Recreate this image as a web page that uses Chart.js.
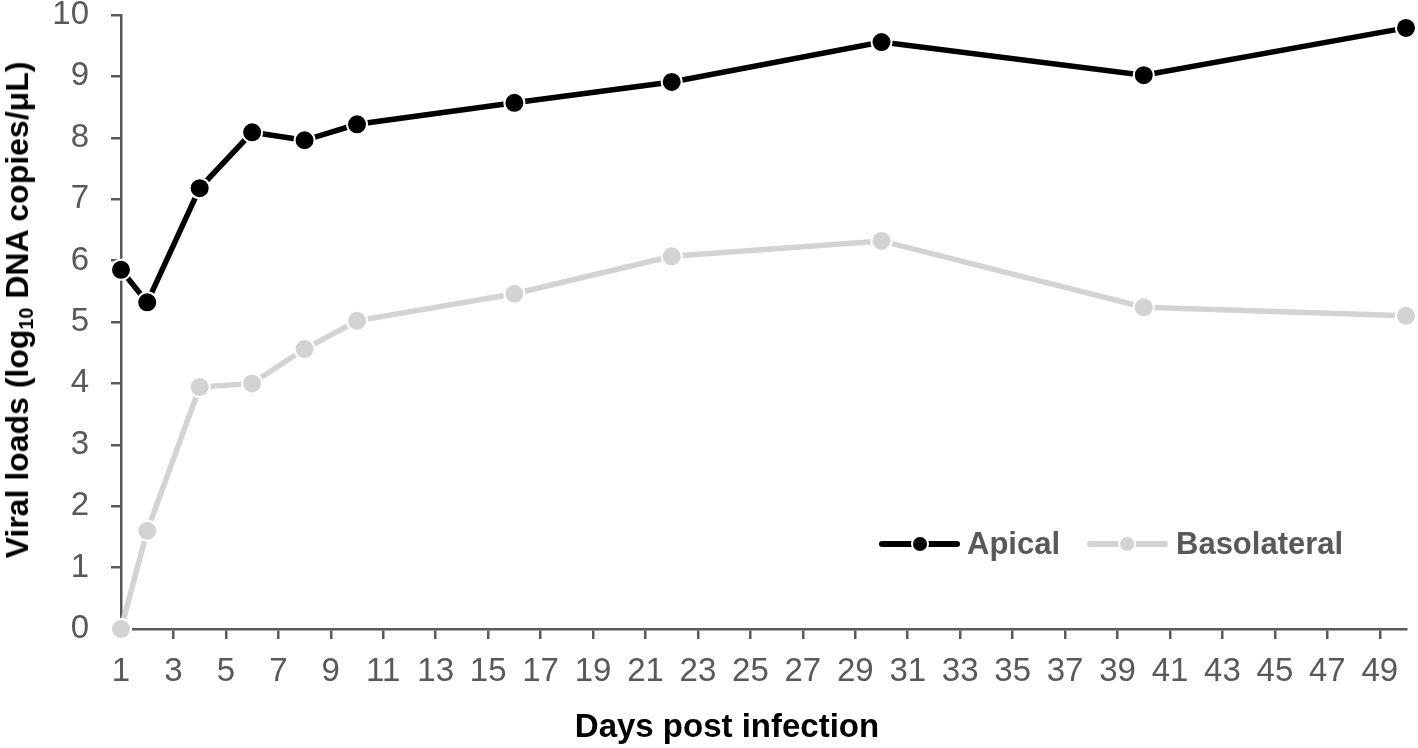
<!DOCTYPE html>
<html>
<head>
<meta charset="utf-8">
<script src="https://cdn.jsdelivr.net/npm/chart.js@4"></script>
<style>
  html, body { margin: 0; padding: 0; background: #fff; }
  #wrap { position: relative; width: 1418px; height: 748px; overflow: hidden; }
  canvas { position: absolute; left: 0; top: 0; }
  .ytitle {
    position: absolute; left: 17px; top: 310px;
    transform: translate(-50%, -50%) rotate(-90deg);
    white-space: nowrap;
    font: bold 32px "Liberation Sans", Arial, sans-serif;
    color: #000; line-height: 1;
  }
  .ytitle sub { font-size: 0.62em; vertical-align: -0.25em; line-height: 0; }
  .xtitle {
    position: absolute; left: 727px; top: 709px;
    transform: translateX(-50%);
    white-space: nowrap;
    font: bold 33px "Liberation Sans", Arial, sans-serif;
    color: #000; line-height: 1;
  }
  .leg { position: absolute; top: 544px; height: 0; }
  .leg .ln { position: absolute; top: -3px; height: 6px; border-radius: 3px; }
  .leg .dot { position: absolute; width: 14px; height: 14px; border-radius: 50%; top: -7px; }
  .leg .tx {
    position: absolute; top: -18px; white-space: nowrap;
    font: bold 31px "Liberation Sans", Arial, sans-serif; color: #595959; line-height: 36px;
  }
</style>
</head>
<body>
<div id="wrap">
  <canvas id="c" width="1418" height="748"></canvas>
  <div class="ytitle">Viral loads (log<sub>10</sub> DNA copies/μL)</div>
  <div class="xtitle">Days post infection</div>
  <div class="leg" id="legend"></div>
</div>
<script>
// ---- data ----
const days = [1, 2, 4, 6, 8, 10, 16, 22, 30, 40, 50];
const apical = [5.85, 5.32, 7.18, 8.09, 7.96, 8.22, 8.57, 8.91, 9.56, 9.02, 9.79];
const basolateral = [0, 1.6, 3.94, 4.0, 4.56, 5.02, 5.46, 6.07, 6.32, 5.24, 5.1];
const xTicks = [1, 3, 5, 7, 9, 11, 13, 15, 17, 19, 21, 23, 25, 27, 29, 31, 33, 35, 37, 39, 41, 43, 45, 47, 49];
const yTicks = [0, 1, 2, 3, 4, 5, 6, 7, 8, 9, 10];
const seriesNames = ["Apical", "Basolateral"];
const seriesColors = ["#000000", "#d3d3d3"];

const toPts = (vals) => days.map((d, i) => ({ x: d, y: vals[i] }));

const axisColor = "#595959";
const font = "'Liberation Sans', Arial, sans-serif";

const commonDs = {
  borderWidth: 5.5,
  pointRadius: 10,
  pointHoverRadius: 10,
  pointBorderWidth: 2,
  pointBorderColor: "#ffffff",
  tension: 0,
  clip: false
};

new Chart(document.getElementById("c"), {
  type: "line",
  data: {
    datasets: [
      Object.assign({ label: seriesNames[0], data: toPts(apical), borderColor: seriesColors[0], pointBackgroundColor: seriesColors[0] }, commonDs),
      Object.assign({ label: seriesNames[1], data: toPts(basolateral), borderColor: seriesColors[1], pointBackgroundColor: seriesColors[1] }, commonDs)
    ]
  },
  options: {
    responsive: false,
    animation: false,
    devicePixelRatio: 1,
    layout: { padding: { top: 15, right: 12, left: 0, bottom: 0 } },
    plugins: { legend: { display: false }, tooltip: { enabled: false } },
    scales: {
      x: {
        type: "linear",
        min: 1, max: 50,
        afterBuildTicks: (s) => { s.ticks = xTicks.map(v => ({ value: v })); },
        afterFit: (s) => { s.height = 119; s.paddingLeft = 0; s.paddingRight = 0; },
        ticks: { font: { family: font, size: 33 }, color: axisColor, padding: 13, autoSkip: false, maxRotation: 0 },
        grid: { drawOnChartArea: false, drawTicks: true, tickLength: 10, color: axisColor, lineWidth: 2.5 },
        border: { display: true, color: axisColor, width: 2.5 },
        title: { display: false }
      },
      y: {
        type: "linear",
        min: 0, max: 10,
        afterBuildTicks: (s) => { s.ticks = yTicks.map(v => ({ value: v })); },
        afterFit: (s) => { s.width = 121; s.paddingTop = 0; s.paddingBottom = 0; },
        ticks: { font: { family: font, size: 33 }, color: axisColor, padding: 22 },
        grid: { drawOnChartArea: false, drawTicks: true, tickLength: 10, color: axisColor, lineWidth: 2.5 },
        border: { display: true, color: axisColor, width: 2.5 }
      }
    }
  }
});

// ---- legend (HTML) ----
const legendLayout = [
  { lineL: 879, lineR: 960, dot: 920, text: 967 },
  { lineL: 1087, lineR: 1168, dot: 1127, text: 1176 }
];
const leg = document.getElementById("legend");
seriesNames.forEach((name, i) => {
  const L = legendLayout[i];
  const ln = document.createElement("div");
  ln.className = "ln"; ln.style.left = L.lineL + "px"; ln.style.width = (L.lineR - L.lineL) + "px"; ln.style.background = seriesColors[i];
  const dot = document.createElement("div");
  dot.className = "dot"; dot.style.left = (L.dot - 7) + "px"; dot.style.background = seriesColors[i];
  dot.style.boxShadow = "0 0 0 2px #fff";
  const tx = document.createElement("div");
  tx.className = "tx"; tx.style.left = L.text + "px"; tx.textContent = name;
  leg.appendChild(ln); leg.appendChild(dot); leg.appendChild(tx);
});
</script>
</body>
</html>
